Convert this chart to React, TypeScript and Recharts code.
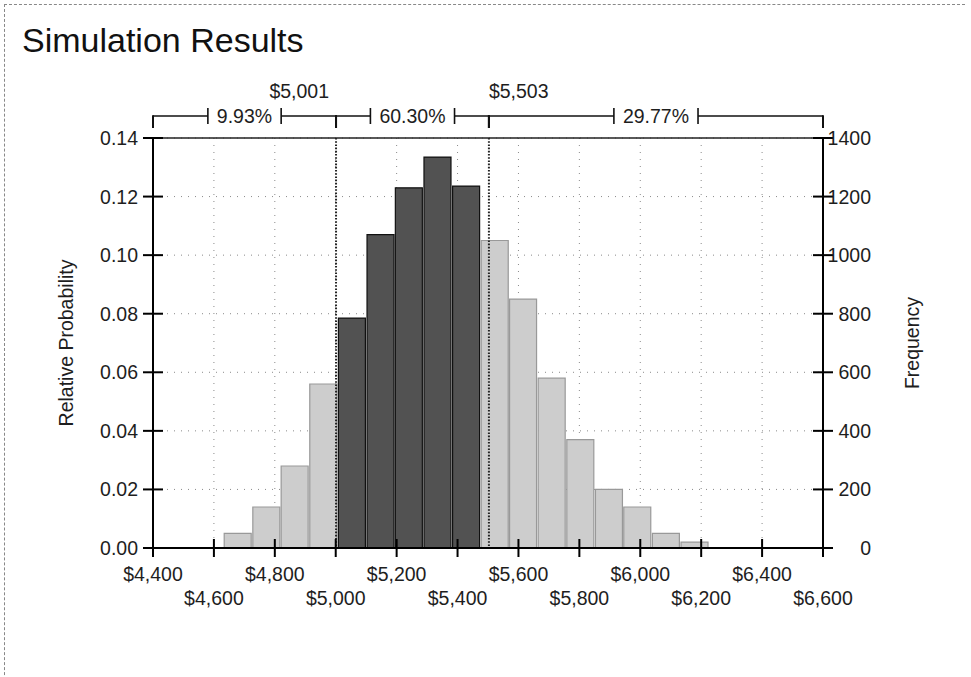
import React from "react";
import {
  ComposedChart,
  Bar,
  Cell,
  XAxis,
  YAxis,
  CartesianGrid,
  ReferenceLine,
} from "recharts";

// ---- data ----
const binCenters = [4677, 4771, 4864, 4958, 5052, 5146, 5239, 5333, 5427, 5521, 5614, 5708, 5802, 5896, 5989, 6083, 6177];
const relProb = [0.005, 0.014, 0.028, 0.056, 0.0785, 0.107, 0.123, 0.1335, 0.1236, 0.105, 0.085, 0.058, 0.037, 0.02, 0.014, 0.005, 0.002];
const cutoffs = [5001, 5503];
const cutoffLabels = ["$5,001", "$5,503"];
const regionBounds = [4400, 5001, 5503, 6600];
const regionPcts = ["9.93%", "60.30%", "29.77%"];
const xTicks = [4400, 4600, 4800, 5000, 5200, 5400, 5600, 5800, 6000, 6200, 6400, 6600];
const probTicks = [0, 0.02, 0.04, 0.06, 0.08, 0.1, 0.12, 0.14];
const freqTicks = [0, 200, 400, 600, 800, 1000, 1200, 1400];

const data = binCenters.map((x, i) => ({ x, p: relProb[i] }));

const FONT = "'Liberation Sans', Arial, sans-serif";
const FS = 19.5;
const TXT = "#1e1e1e";

const charW: Record<string, number> = { ".": 0.278, "%": 0.889, ",": 0.278, $: 0.556 };
const textWidth = (s: string, fs: number) =>
  s.split("").reduce((a, c) => a + (charW[c] ?? 0.556), 0) * fs;

const XTick = (props: any) => {
  const { x, y, payload, index } = props;
  const row = index % 2 === 0 ? 26 : 50;
  return (
    <g>
      <line x1={x} x2={x} y1={y - 9} y2={y + 9} stroke="#000" strokeWidth={2} />
      <text x={x} y={y + row} dy="0.36em" textAnchor="middle" fontSize={FS} fontFamily={FONT} fill={TXT}>
        {"$" + Number(payload.value).toLocaleString("en-US")}
      </text>
    </g>
  );
};

const LeftTick = (props: any) => {
  const { x, y, payload } = props;
  return (
    <g>
      <line x1={x - 10} x2={x + 10} y1={y} y2={y} stroke="#000" strokeWidth={2} />
      <text x={x - 15} y={y} dy="0.36em" textAnchor="end" fontSize={FS} fontFamily={FONT} fill={TXT}>
        {Number(payload.value).toFixed(2)}
      </text>
    </g>
  );
};

const RightTick = (props: any) => {
  const { x, y, payload } = props;
  return (
    <g>
      <line x1={x - 10} x2={x + 10} y1={y} y2={y} stroke="#000" strokeWidth={2} />
      <text x={x + 48} y={y} dy="0.36em" textAnchor="end" fontSize={FS} fontFamily={FONT} fill={TXT}>
        {String(payload.value)}
      </text>
    </g>
  );
};

const bracketShape = (pct: string) => (props: any) => {
  const { x1, x2, y1 } = props;
  const yb = y1 - 22;
  const cx = (x1 + x2) / 2;
  const half = textWidth(pct, FS) / 2 + 9;
  return (
    <g>
      <line x1={x1} x2={x2} y1={yb} y2={yb} stroke="#111" strokeWidth={1.5} />
      <line x1={x1} x2={x1} y1={yb - 0.75} y2={yb + 12} stroke="#111" strokeWidth={2} />
      <line x1={x2} x2={x2} y1={yb - 0.75} y2={yb + 12} stroke="#111" strokeWidth={2} />
      <rect x={cx - half} y={yb - 9} width={half * 2} height={18} fill="#fff" />
      <line x1={cx - half} x2={cx - half} y1={yb - 8} y2={yb + 8} stroke="#111" strokeWidth={1.6} />
      <line x1={cx + half} x2={cx + half} y1={yb - 8} y2={yb + 8} stroke="#111" strokeWidth={1.6} />
      <text x={cx} y={yb} dy="0.36em" textAnchor="middle" fontSize={FS} fontFamily={FONT} fill={TXT}>
        {pct}
      </text>
    </g>
  );
};

const cutoffShape = (label: string, side: "left" | "right") => (props: any) => {
  const { x1, y1, y2 } = props;
  const top = Math.min(y1, y2);
  const bottom = Math.max(y1, y2);
  return (
    <g>
      <line x1={x1} x2={x1} y1={top} y2={bottom} stroke="#222" strokeWidth={2} strokeDasharray="1.6 1.6" />
      <text
        x={side === "left" ? x1 - 7 : x1}
        y={top - 40}
        textAnchor={side === "left" ? "end" : "start"}
        fontSize={FS}
        fontFamily={FONT}
        fill={TXT}
      >
        {label}
      </text>
    </g>
  );
};

const axisTitle = (text: string, dxFromAxisBox: number) => (p: any) => {
  const vb = p.viewBox || { x: 0, y: 138, width: 153, height: 410 };
  const cx = vb.x + dxFromAxisBox;
  const cy = vb.y + vb.height / 2;
  return (
    <text
      x={cx}
      y={cy}
      transform={`rotate(-90 ${cx} ${cy})`}
      textAnchor="middle"
      dy="0.36em"
      fontSize={FS}
      fontFamily={FONT}
      fill={TXT}
    >
      {text}
    </text>
  );
};

export default function App() {
  return (
    <div style={{ position: "absolute", left: 0, top: 0, width: 971, height: 677, background: "#fff", overflow: "hidden" }}>
      <div
        style={{
          position: "absolute",
          left: 4,
          top: 4,
          width: 960,
          height: 700,
          borderTop: "1px dashed #888",
          borderLeft: "1px dashed #888",
        }}
      />
      <div
        style={{
          position: "absolute",
          left: 22,
          top: 23,
          fontFamily: FONT,
          fontSize: 34,
          lineHeight: "34px",
          color: "#111",
          whiteSpace: "nowrap",
        }}
      >
        Simulation Results
      </div>
      <div style={{ position: "absolute", left: 0, top: 0 }}>
        <ComposedChart
          width={971}
          height={677}
          data={data}
          margin={{ top: 138, right: 0, bottom: 49, left: 0 }}
        >
          <CartesianGrid
            yAxisId="left"
            stroke="#8a8a8a"
            strokeDasharray="1 6"
            strokeWidth={1}
          />
          <XAxis
            dataKey="x"
            type="number"
            domain={[4400, 6600]}
            ticks={xTicks}
            interval={0}
            height={80}
            tickSize={0}
            tickMargin={0}
            tickLine={false}
            axisLine={{ stroke: "#000", strokeWidth: 2 }}
            tick={<XTick />}
          />
          <YAxis
            yAxisId="left"
            orientation="left"
            domain={[0, 0.14]}
            ticks={probTicks}
            interval={0}
            width={153}
            tickSize={0}
            tickMargin={0}
            tickLine={false}
            axisLine={{ stroke: "#000", strokeWidth: 2 }}
            tick={<LeftTick />}
            label={{ content: axisTitle("Relative Probability", 66) }}
          />
          <YAxis
            yAxisId="right"
            orientation="right"
            domain={[0, 1400]}
            allowDataOverflow={true}
            ticks={freqTicks}
            interval={0}
            width={148}
            tickSize={0}
            tickMargin={0}
            tickLine={false}
            axisLine={{ stroke: "#000", strokeWidth: 2 }}
            tick={<RightTick />}
            label={{ content: axisTitle("Frequency", 89) }}
          />
          <Bar dataKey="p" yAxisId="left" barSize={27} isAnimationActive={false}>
            {data.map((d, i) => {
              const inside = d.x > cutoffs[0] && d.x < cutoffs[1];
              return (
                <Cell
                  key={i}
                  fill={inside ? "#525252" : "#cdcdcd"}
                  stroke={inside ? "#111111" : "#999999"}
                  strokeWidth={1.2}
                />
              );
            })}
          </Bar>
          <ReferenceLine
            yAxisId="right"
            y={freqTicks[freqTicks.length - 1]}
            stroke="#222"
            strokeWidth={1.5}
            ifOverflow="extendDomain"
          />
          {cutoffs.map((c, i) => (
            <ReferenceLine
              key={"c" + i}
              yAxisId="left"
              x={c}
              ifOverflow="visible"
              shape={cutoffShape(cutoffLabels[i], i === 0 ? "left" : "right")}
            />
          ))}
          {regionPcts.map((pct, i) => (
            <ReferenceLine
              key={"r" + i}
              yAxisId="left"
              ifOverflow="visible"
              segment={[
                { x: regionBounds[i], y: 0.14 },
                { x: regionBounds[i + 1], y: 0.14 },
              ]}
              shape={bracketShape(pct)}
            />
          ))}
        </ComposedChart>
      </div>
    </div>
  );
}
